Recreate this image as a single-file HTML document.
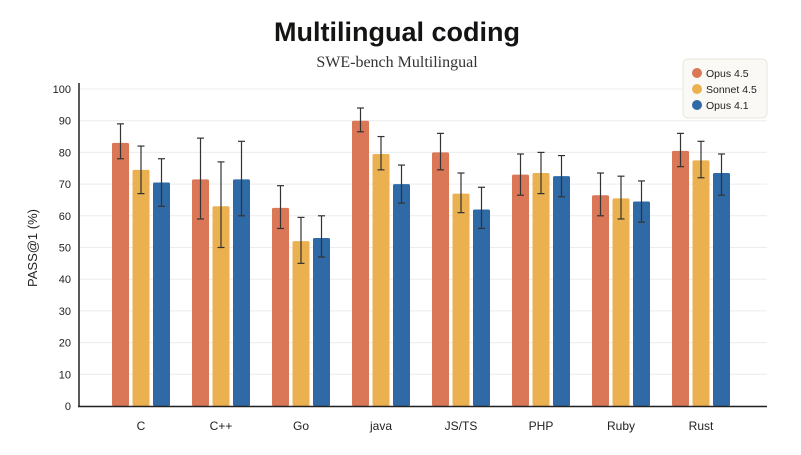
<!DOCTYPE html>
<html><head><meta charset="utf-8"><style>
body{margin:0;background:#fff;width:801px;height:450px;overflow:hidden;font-family:"Liberation Sans",sans-serif}
</style></head><body>
<svg id="chart" width="801" height="450">
<text x="397" y="41" text-anchor="middle" font-size="27" font-weight="bold" fill="#141413">Multilingual coding</text>
<text x="397" y="67" text-anchor="middle" font-size="16" font-family="Liberation Serif, serif" fill="#333">SWE-bench Multilingual</text>
<text transform="translate(37,248) rotate(-90)" text-anchor="middle" font-size="13" fill="#222">PASS@1 (%)</text>
<g id="grid"></g><g id="bars"></g><g id="axes"></g>
<g>
<rect x="683" y="59" width="84" height="59" rx="5" fill="#faf9f5" stroke="#e8e6dc"/>
<circle cx="697" cy="73" r="5" fill="#d97757"/><text x="706" y="77" font-size="10.5" fill="#222">Opus 4.5</text>
<circle cx="697" cy="89" r="5" fill="#ebb04f"/><text x="706" y="93" font-size="10.5" fill="#222">Sonnet 4.5</text>
<circle cx="697" cy="105" r="5" fill="#2f6aa6"/><text x="706" y="109" font-size="10.5" fill="#222">Opus 4.1</text>
</g>
</svg>
<script>
const categories=["C","C++","Go","java","JS/TS","PHP","Ruby","Rust"];
const seriesNames=["Opus 4.5","Sonnet 4.5","Opus 4.1"];
const opus45=[83,71.5,62.5,90,80,73,66.5,80.5];
const opus45Lo=[78,59,56,86.5,74.5,66.5,60,75.5];
const opus45Hi=[89,84.5,69.5,94,86,79.5,73.5,86];
const sonnet45=[74.5,63,52,79.5,67,73.5,65.5,77.5];
const sonnet45Lo=[67,50,45,74.5,61,67,59,72];
const sonnet45Hi=[82,77,59.5,85,73.5,80,72.5,83.5];
const opus41=[70.5,71.5,53,70,62,72.5,64.5,73.5];
const opus41Lo=[63,60,47,64,56,66,58,66.5];
const opus41Hi=[78,83.5,60,76,69,79,71,79.5];
const yTicks=[0,10,20,30,40,50,60,70,80,90,100];
const colors=["#d97757","#ebb04f","#2f6aa6"];
const NS="http://www.w3.org/2000/svg";
const y=v=>406-v*3.17;
const xc=i=>141+i*80;
function mk(t,a,p){const e=document.createElementNS(NS,t);for(const k in a)e.setAttribute(k,a[k]);p.appendChild(e);return e;}
const grid=document.getElementById('grid'),bars=document.getElementById('bars'),axes=document.getElementById('axes');
yTicks.forEach(t=>{
 const l=mk('line',{x1:79,x2:767,y1:y(t),y2:y(t),stroke:'#ececec','stroke-width':1},grid);
 
 
 const tx=mk('text',{x:71,y:y(t)+4,'text-anchor':'end','font-size':11,fill:'#222'},axes);
 tx.textContent=t;
 
 
});
const vals=[opus45,sonnet45,opus41],los=[opus45Lo,sonnet45Lo,opus41Lo],his=[opus45Hi,sonnet45Hi,opus41Hi];
categories.forEach((c,i)=>{
 vals.forEach((s,j)=>{
  const cx=xc(i)+(j-1)*20.5;
  const r=mk('rect',{x:cx-8.5,y:y(s[i]),width:17,height:y(0)-y(s[i]),fill:colors[j],rx:1.5},bars);
  
  
  const g=mk('g',{stroke:'#333','stroke-width':1.2},bars);
  
  
  mk('line',{x1:cx,x2:cx,y1:y(his[j][i]),y2:y(los[j][i])},g);
  mk('line',{x1:cx-3.5,x2:cx+3.5,y1:y(his[j][i]),y2:y(his[j][i])},g);
  mk('line',{x1:cx-3.5,x2:cx+3.5,y1:y(los[j][i]),y2:y(los[j][i])},g);
 });
 const t=mk('text',{x:xc(i),y:430,'text-anchor':'middle','font-size':12,fill:'#222'},axes);
 t.textContent=c;
 
 
});
const ya=mk('line',{x1:79,x2:79,y1:83,y2:407,stroke:'#222','stroke-width':1.5},axes);


const xa=mk('line',{x1:78,x2:767,y1:406.5,y2:406.5,stroke:'#222','stroke-width':1.5},axes);


</script>
</body></html>
